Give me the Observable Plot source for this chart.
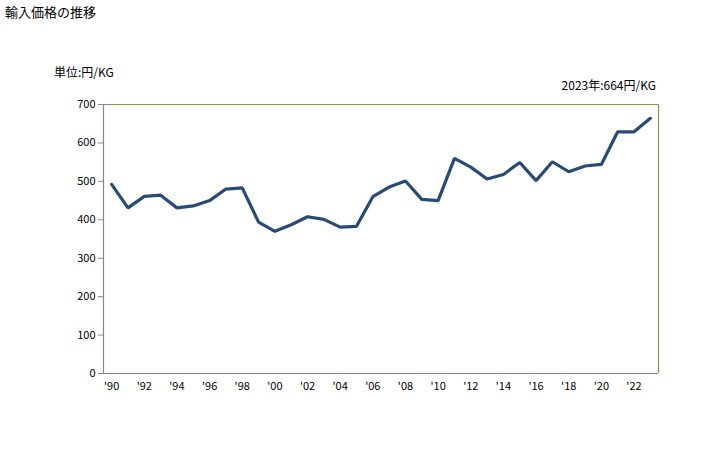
<!DOCTYPE html>
<html><head><meta charset="utf-8">
<script src="https://cdn.jsdelivr.net/npm/d3@7"></script>
<script src="https://cdn.jsdelivr.net/npm/@observablehq/plot@0.6"></script>
<style>
body{margin:0;background:#fff;font-family:"Noto Sans CJK JP",sans-serif;}
#wrap{position:relative;width:728px;height:450px;}
.t{position:absolute;font-size:12px;color:#000;white-space:nowrap;line-height:1;}
</style></head><body>
<div id="wrap">
<div class="t" style="left:5px;top:5px;font-size:13px;">輸入価格の推移</div>
<div class="t" style="left:54px;top:66px;">単位:円/KG</div>
<div class="t" style="right:72px;top:79px;">2023年:664円/KG</div>
</div>
<script>
const years = [1990,1991,1992,1993,1994,1995,1996,1997,1998,1999,2000,2001,2002,2003,2004,2005,2006,2007,2008,2009,2010,2011,2012,2013,2014,2015,2016,2017,2018,2019,2020,2021,2022,2023];
const prices = [492,431,461,464,431,436,450,480,483,394,370,387,408,401,381,383,460,485,501,453,450,560,537,506,518,549,502,551,525,540,544,629,629,664];
const yTicks = [0,100,200,300,400,500,600,700];
const xTicks = [1990,1992,1994,1996,1998,2000,2002,2004,2006,2008,2010,2012,2014,2016,2018,2020,2022];

const data = years.map((y,i)=>({year:y, price:prices[i]}));
const chart = Plot.plot({
  width:728, height:450,
  marginLeft:103, marginRight:70, marginTop:104, marginBottom:77,
  style:{fontFamily:"'Noto Sans CJK JP', sans-serif", fontSize:"11px", color:"#000", background:"transparent"},
  x:{domain:[1989.5,2023.5], ticks:xTicks, tickFormat:d=>"'"+String(d).slice(2), label:null},
  y:{domain:[0,700], ticks:yTicks, label:null},
  marks:[
    Plot.ruleY([700],{stroke:"#9a8745",strokeWidth:1.2}),
    Plot.ruleX([2023.5],{stroke:"#9a8745",strokeWidth:1.2}),
    Plot.ruleY([0],{stroke:"#888",strokeWidth:1.2}),
    Plot.ruleX([1989.5],{stroke:"#888",strokeWidth:1.2}),
    Plot.axisY({ticks:yTicks, tickSize:5, tickPadding:3, stroke:"#888", label:null}),
    Plot.axisX({ticks:xTicks, tickSize:0, tickPadding:9, tickFormat:d=>"'"+String(d).slice(2), label:null}),
    Plot.line(data,{x:"year",y:"price",stroke:"#264b77",strokeWidth:3.2,strokeLinejoin:"miter"})
  ]
});
chart.style.position="absolute";chart.style.left="0";chart.style.top="0";
document.getElementById("wrap").appendChild(chart);
</script>
</body></html>
